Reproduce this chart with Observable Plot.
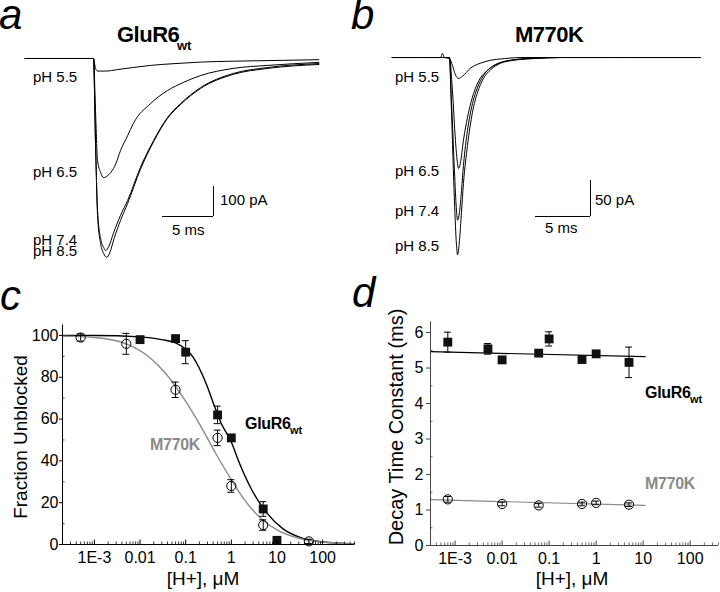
<!DOCTYPE html>
<html><head><meta charset="utf-8">
<script src="https://cdn.jsdelivr.net/npm/d3@7"></script>
<script src="https://cdn.jsdelivr.net/npm/@observablehq/plot@0.6"></script>
<style>
body{margin:0;background:#fff;}
#fig{position:relative;width:720px;height:592px;font-family:"Liberation Sans",Arial,Helvetica,sans-serif;overflow:hidden;background:#fff}
.p{position:absolute}
.t{position:absolute;white-space:nowrap;line-height:0.7;color:#000}
</style></head><body><div id="fig"></div>
<script>
// ---------- Panel a: GluR6wt current traces  [time ms, current pA]
const a_pH55 = [[-6.8,0],[-0.1,0],[0.1,-33],[0.3,-42],[0.6,-42],[1.1,-42],[2.25,-37],[3.8,-30],[5.5,-23],[7.9,-17],[10.4,-12],[13.6,-9],[17,-7],[22,-4]];
const a_pH65 = [[-6.8,0],[-0.1,0],[0.1,-173],[0.3,-340],[0.6,-380],[0.9,-397],[1.3,-390],[1.6,-380],[2.1,-350],[2.55,-307],[3.25,-257],[3.8,-217],[5.5,-150],[7.15,-107],[8.7,-80],[10.4,-57],[13.6,-33],[17,-23],[22,-13]];
const a_pH74 = [[-6.8,0],[-0.1,0],[0.1,-273],[0.3,-507],[0.6,-600],[0.9,-630],[1.1,-640],[1.4,-627],[1.85,-583],[2.55,-523],[3.25,-473],[4.5,-363],[5.8,-273],[7.15,-197],[8.45,-150],[10.4,-97],[13.6,-50],[17,-30],[22,-17]];
const a_pH85 = [[-6.8,0],[-0.1,0],[0.1,-290],[0.3,-523],[0.6,-617],[0.9,-650],[1.2,-663],[1.5,-647],[1.95,-597],[2.55,-540],[3.25,-483],[4.5,-370],[5.8,-277],[7.15,-200],[8.45,-153],[10.4,-100],[13.6,-53],[17,-33],[22,-20]];
const a_scaleBar = {t0: 6.67, i0: -526.7, dt: 5, di: 100};

// ---------- Panel b: M770K current traces [time ms, current pA]
const b_pH55 = [[-5.3,0],[-0.9,0],[-0.73,5.6],[-0.55,0],[-0.1,-1.4],[0.18,-11],[0.45,-24],[0.73,-29],[1.1,-26],[1.8,-15],[2.7,-8],[3.6,-4],[5,-1.4],[6.4,0],[22.7,0]];
const b_pH65 = [[-5.3,0],[-0.1,0],[0.18,-46],[0.45,-115],[0.64,-147],[0.73,-154],[0.9,-147],[1.18,-115],[1.55,-83],[2.1,-50],[2.7,-29],[3.35,-18],[4.1,-10],[5.45,-4],[7.3,-1.4],[10,0],[22.7,0]];
const b_pH74 = [[-5.3,0],[-0.1,0],[0.09,-60],[0.36,-157],[0.55,-213],[0.64,-226],[0.82,-215],[1.0,-185],[1.18,-150],[1.55,-101],[2.0,-64],[2.45,-42],[3.0,-25],[3.65,-14],[4.55,-7],[5.9,-2.8],[7.7,-0.7],[10,0],[22.7,0]];
const b_pH85 = [[-5.3,0],[-0.1,0],[0.09,-74],[0.36,-199],[0.55,-261],[0.64,-274],[0.82,-254],[1.0,-215],[1.18,-175],[1.55,-122],[2.0,-76],[2.45,-49],[3.0,-29],[3.65,-17],[4.55,-8],[5.9,-3.5],[7.7,-1.4],[10,0],[22.7,0]];
const b_scaleBar = {t0: 7.73, i0: -220.8, dt: 5, di: 50};

// ---------- Panel c: Fraction unblocked vs [H+] (µM)
const c_wt_x   = [0.01, 0.06, 0.1, 0.5, 1, 5, 10];
const c_wt_y   = [98, 98.5, 92, 62, 51, 17, 2];
const c_wt_err = [1, 1, 5.5, 4.2, 1.5, 3.5, 0];
const c_mk_x   = [5e-4, 0.005, 0.06, 0.5, 1, 5, 50];
const c_mk_y   = [99, 96, 74, 51, 28, 9.3, 1.5];
const c_mk_err = [1.7, 5, 3.7, 3.7, 3, 2.5, 1];
const c_wt_fit = [[2e-4,100],[0.001,100],[0.01,99.3],[0.03,98],[0.06,96.5],[0.1,93.5],[0.145,89.6],[0.28,77],[0.43,66],[0.6,58],[1,49],[1.5,39],[3,25],[5.8,15.5],[13.6,7.5],[31,3.5],[100,1.2],[500,0.3]];
const c_mk_fit = [[2e-4,99.7],[0.001,99],[0.005,96],[0.016,89.6],[0.037,81.7],[0.087,70.5],[0.2,57.7],[0.46,43.4],[1,31],[2,21],[5,11.5],[10,7],[30,3],[100,1.2],[500,0.3]];

// ---------- Panel d: Decay time constant (ms) vs [H+] (µM)
const d_wt_x   = [7e-4, 0.005, 0.01, 0.06, 0.1, 0.5, 1, 5];
const d_wt_y   = [5.73, 5.54, 5.23, 5.42, 5.82, 5.24, 5.40, 5.16];
const d_wt_err = [0.28, 0.15, 0.05, 0.06, 0.2, 0.05, 0.05, 0.43];
const d_mk_x   = [7e-4, 0.01, 0.06, 0.5, 1, 5];
const d_mk_y   = [1.30, 1.17, 1.13, 1.17, 1.20, 1.15];
const d_mk_err = [0.08, 0.05, 0.05, 0.05, 0.05, 0.05];
const d_wt_fit = [[3e-4,5.46],[11,5.32]];
const d_mk_fit = [[3e-4,1.29],[11,1.13]];

// ---------- tick labels
const xTickValues = [0.001, 0.01, 0.1, 1, 10, 100];
const xTickLabels = ["1E-3", "0.01", "0.1", "1", "10", "100"];
const cYTicks = [0, 20, 40, 60, 80, 100];
const dYTicks = [0, 1, 2, 3, 4, 5, 6];

const FONT = '"Liberation Sans", Arial, Helvetica, sans-serif';
const fig = document.getElementById("fig");
const GRAY = "#8a8a8a";
const BASE = (0.7 - 1.117) / 2 + 0.905; // baseline offset (em) for line-height 0.7

function place(svg, left, top) {
  const w = document.createElement("div");
  w.className = "p"; w.style.left = left + "px"; w.style.top = top + "px";
  w.appendChild(svg); fig.appendChild(w);
}
function txt(s, x, yb, size, o = {}) {
  const d = document.createElement("div");
  d.className = "t";
  d.textContent = s;
  d.style.fontSize = size + "px";
  d.style.left = x + "px";
  d.style.top = (yb - BASE * size) + "px";
  if (o.bold) d.style.fontWeight = "bold";
  if (o.italic) d.style.fontStyle = "italic";
  if (o.color) d.style.color = o.color;
  if (o.ls != null) d.style.letterSpacing = o.ls + "px";
  if (o.center) d.style.transform = "translateX(-50%)";
  fig.appendChild(d);
  return d;
}
function vtxt(s, cx, cy, size) {
  const d = document.createElement("div");
  d.className = "t";
  d.style.lineHeight = "1";
  d.textContent = s;
  d.style.fontSize = size + "px";
  d.style.left = cx + "px";
  d.style.top = cy + "px";
  d.style.transform = "translate(-50%,-50%) rotate(-90deg)";
  fig.appendChild(d);
}
const toObj = arr => arr.map(([t, i]) => ({t, i}));
const pts = (xs, ys, es) => xs.map((x, k) => ({x, y: ys[k], e: es[k]}));

// ---------- trace panels
function tracePanel(traces, xdom, ydom, bar) {
  return Plot.plot({
    width: 360, height: 280, margin: 0,
    x: {domain: xdom}, y: {domain: ydom},
    axis: null,
    style: {background: "transparent", overflow: "visible"},
    marks: [
      ...traces.map(tr => Plot.line(toObj(tr), {x: "t", y: "i", stroke: "#000", strokeWidth: 1, curve: "monotone-x"})),
      Plot.ruleY([bar], {y: d => d.i0, x1: d => d.t0, x2: d => d.t0 + d.dt, stroke: "#000", strokeWidth: 1}),
      Plot.ruleX([bar], {x: d => d.t0 + d.dt, y1: d => d.i0, y2: d => d.i0 + d.di, stroke: "#000", strokeWidth: 1})
    ]
  });
}
place(tracePanel([a_pH55, a_pH65, a_pH74, a_pH85], [-9.216, 26.08], [-740, 193.3], a_scaleBar), 0, 0);
place(tracePanel([b_pH55, b_pH65, b_pH74, b_pH85], [-8.18, 24.55], [-309.7, 79.2], b_scaleBar), 360, 0);

// ---------- log panels
function minorTicks(lo, hi) {
  const out = [];
  for (let e = -5; e <= 3; e++) for (let m = 2; m <= 9; m++) {
    const v = m * Math.pow(10, e);
    if (v >= lo && v <= hi) out.push(v);
  }
  return out;
}
function logPanel(cfg) {
  const [x0, x1] = cfg.xdom;
  const [y0, y1] = cfg.ydom;
  const pxPerDec = (360 - cfg.ml - cfg.mr) / Math.log10(x1 / x0);
  const xf = px => Math.pow(10, px / pxPerDec);
  const pxPerY = (312 - cfg.mt - cfg.mb) / (y1 - y0);
  const yl = px => px / pxPerY;
  const wt = pts(cfg.wtx, cfg.wty, cfg.wte);
  const mk = pts(cfg.mkx, cfg.mky, cfg.mke);
  const cap = xf(3.5);
  const errMarks = data => [
    Plot.ruleX(data.filter(d => d.e > 0), {x: "x", y1: d => d.y - d.e, y2: d => d.y + d.e, stroke: "#000", strokeWidth: 1}),
    Plot.ruleY(data.filter(d => d.e > 0), {y: d => d.y + d.e, x1: d => d.x / cap, x2: d => d.x * cap, stroke: "#000", strokeWidth: 1}),
    Plot.ruleY(data.filter(d => d.e > 0), {y: d => d.y - d.e, x1: d => d.x / cap, x2: d => d.x * cap, stroke: "#000", strokeWidth: 1})
  ];
  return Plot.plot({
    width: 360, height: 312,
    marginLeft: cfg.ml, marginRight: cfg.mr, marginTop: cfg.mt, marginBottom: cfg.mb,
    x: {type: "log", domain: cfg.xdom},
    y: {domain: cfg.ydom},
    style: {fontSize: "16px", fontFamily: FONT, color: "#000", background: "transparent", overflow: "visible"},
    marks: [
      Plot.line(toObj(cfg.wtfit), {x: "t", y: "i", stroke: "#000", strokeWidth: cfg.fitW, curve: "monotone-x"}),
      Plot.line(toObj(cfg.mkfit), {x: "t", y: "i", stroke: GRAY, strokeWidth: cfg.fitW, curve: "monotone-x"}),
      ...errMarks(mk),
      ...errMarks(wt),
      Plot.dot(mk, {x: "x", y: "y", symbol: "circle", r: 4.6, fill: "none", stroke: "#000", strokeWidth: 1}),
      Plot.dot(wt, {x: "x", y: "y", symbol: "square", r: 5, fill: "#111", stroke: "none"}),
      // axes
      Plot.ruleY([y0], {stroke: cfg.axisColor, strokeWidth: 1}),
      Plot.ruleX([x0], {stroke: cfg.axisColor, strokeWidth: 1}),
      Plot.ruleX(minorTicks(x0, x1), {x: d => d, y1: y0, y2: y0 + yl(2.5), stroke: cfg.axisColor, strokeWidth: 0.8}),
      Plot.ruleX(xTickValues, {x: d => d, y1: y0, y2: y0 + yl(4.5), stroke: cfg.axisColor, strokeWidth: 1}),
      Plot.ruleY(cfg.yminor, {y: d => d, x1: x0, x2: x0 * xf(2.5), stroke: cfg.axisColor, strokeWidth: 0.8}),
      Plot.axisX({ticks: xTickValues, tickFormat: d => xTickLabels[xTickValues.indexOf(d)], tickSize: 0, tickPadding: 7, label: null, fontSize: 16}),
      Plot.axisY({ticks: cfg.yticks, tickFormat: d => String(d), tickSize: cfg.tickSize, tickPadding: cfg.tickPad, label: null, stroke: cfg.axisColor, fontSize: 16})
    ]
  });
}
place(logPanel({
  xdom: [2e-4, 500], ydom: [0, 105], ml: 62, mr: 6, mt: 44.5, mb: 48,
  wtx: c_wt_x, wty: c_wt_y, wte: c_wt_err, mkx: c_mk_x, mky: c_mk_y, mke: c_mk_err,
  wtfit: c_wt_fit, mkfit: c_mk_fit, fitW: 1.4, axisColor: "#000",
  yticks: cYTicks, yminor: [10, 30, 50, 70, 90], tickSize: 3, tickPad: 1
}), 0, 280);
place(logPanel({
  xdom: [3e-4, 400], ydom: [0, 6.3], ml: 70, mr: 2, mt: 41.4, mb: 47,
  wtx: d_wt_x, wty: d_wt_y, wte: d_wt_err, mkx: d_mk_x, mky: d_mk_y, mke: d_mk_err,
  wtfit: d_wt_fit, mkfit: d_mk_fit, fitW: 1.2, axisColor: "#444",
  yticks: dYTicks, yminor: [0.5, 1.5, 2.5, 3.5, 4.5, 5.5], tickSize: 4, tickPad: 3
}), 360, 280);

// ---------- text annotations
txt("a", -1, 29.5, 42, {italic: true});
txt("b", 351, 29.5, 42, {italic: true});
txt("c", 0, 310, 42, {italic: true});
txt("d", 352, 307, 42, {italic: true});

txt("GluR6", 117, 42, 22, {bold: true, ls: -0.5});
txt("wt", 177, 50, 13, {bold: true});
txt("M770K", 515, 42, 22, {bold: true, ls: -0.5});

txt("pH 5.5", 33, 82, 15); txt("pH 6.5", 33, 177, 15); txt("pH 7.4", 33, 245, 15); txt("pH 8.5", 33, 256, 15);
txt("pH 5.5", 395, 82, 15); txt("pH 6.5", 395, 176, 15); txt("pH 7.4", 395, 216, 15); txt("pH 8.5", 395, 251, 15);
txt("100 pA", 220, 205, 15); txt("5 ms", 172, 235, 15);
txt("50 pA", 595, 205, 15); txt("5 ms", 545, 233, 15);

txt("GluR6", 245, 429, 16, {bold: true, ls: -0.3});
txt("wt", 290, 435, 11, {bold: true});
txt("M770K", 150, 450, 16, {bold: true, color: GRAY, ls: -0.3});
txt("GluR6", 645, 398, 16, {bold: true, ls: -0.3});
txt("wt", 690, 404, 11, {bold: true});
txt("M770K", 645, 489, 16, {bold: true, color: GRAY, ls: -0.3});

txt("[H+], μM", 203, 585, 19, {center: true});
txt("[H+], μM", 572, 585, 19, {center: true});
vtxt("Fraction Unblocked", 20.4, 437, 19);
vtxt("Decay Time Constant (ms)", 396, 427, 20);
</script></body></html>
